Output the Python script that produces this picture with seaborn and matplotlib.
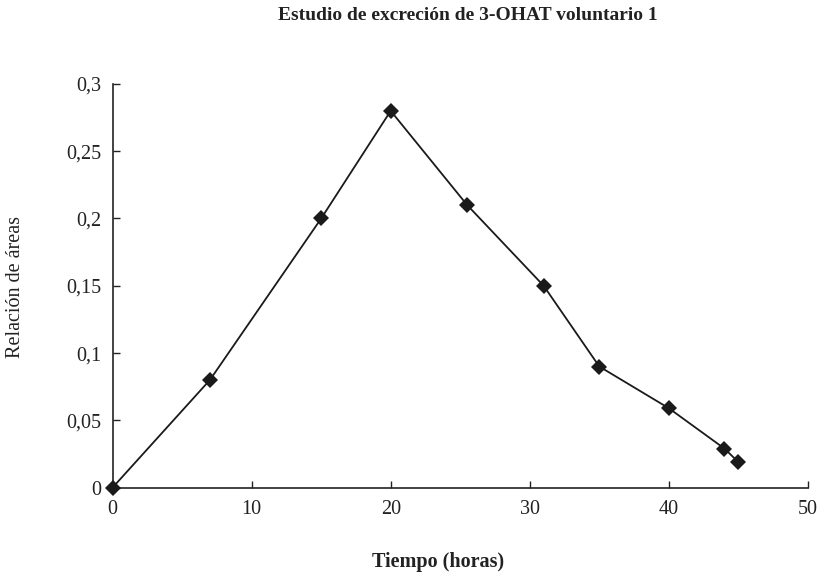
import matplotlib.pyplot as plt
import pandas as pd
import seaborn as sns
import numpy as np

# Values
tiempo = [0, 7, 15, 20, 25.5, 31, 35, 40, 44, 45]
relacion = [0, 0.08, 0.2, 0.28, 0.21, 0.15, 0.09, 0.059, 0.029, 0.019]

x_ticks = [0, 10, 20, 30, 40, 50]
y_ticks = [0, 0.05, 0.1, 0.15, 0.2, 0.25, 0.3]
y_tick_labels = ['0', '0,05', '0,1', '0,15', '0,2', '0,25', '0,3']

titulo = 'Estudio de excreción de 3-OHAT voluntario 1'
x_label = 'Tiempo (horas)'
y_label = 'Relación de áreas'

data = pd.DataFrame({'tiempo': tiempo, 'relacion': relacion})

sns.set_style('white')
plt.rcParams['font.family'] = ['Liberation Serif', 'DejaVu Serif']

fig = plt.figure(figsize=(8.32, 5.75), dpi=100)
ax = fig.add_axes([0.1353, 0.152, 0.8357, 0.702])

sns.lineplot(data=data, x='tiempo', y='relacion', ax=ax, color='#1a1a1a',
             linewidth=1.3, marker='D', markersize=8, markeredgewidth=0,
             markerfacecolor='#1a1a1a', clip_on=False, zorder=3)

ax.set_xlim(0, 50)
ax.set_ylim(0, 0.3)
ax.set_xticks(x_ticks)
ax.set_xticklabels([str(t) for t in x_ticks])
ax.set_yticks(y_ticks)
ax.set_yticklabels(y_tick_labels)
ax.set_xlabel('')
ax.set_ylabel('')

sns.despine(ax=ax)
for side in ['left', 'bottom']:
    ax.spines[side].set_color('#222222')
    ax.spines[side].set_linewidth(1.2)

ax.tick_params(axis='x', direction='in', length=5, width=1, color='#222222',
               labelsize=14.5, pad=9, labelcolor='#222222')
ax.tick_params(axis='y', direction='in', length=5, width=1, color='#222222',
               labelsize=14.5, pad=8, labelcolor='#222222')
ax.tick_params(left=True, bottom=True)

fig.text(468 / 832, 1 - 16 / 575, titulo, ha='center', va='center',
         fontsize=14, fontweight='bold', color='#222222')
fig.text(438 / 832, 1 - 562 / 575, x_label, ha='center', va='center',
         fontsize=14.5, fontweight='bold', color='#222222')
fig.text(16 / 832, 1 - 287 / 575, y_label, ha='center', va='center',
         rotation=90, fontsize=14.5, color='#222222')

fig.savefig('out.png', dpi=100)
